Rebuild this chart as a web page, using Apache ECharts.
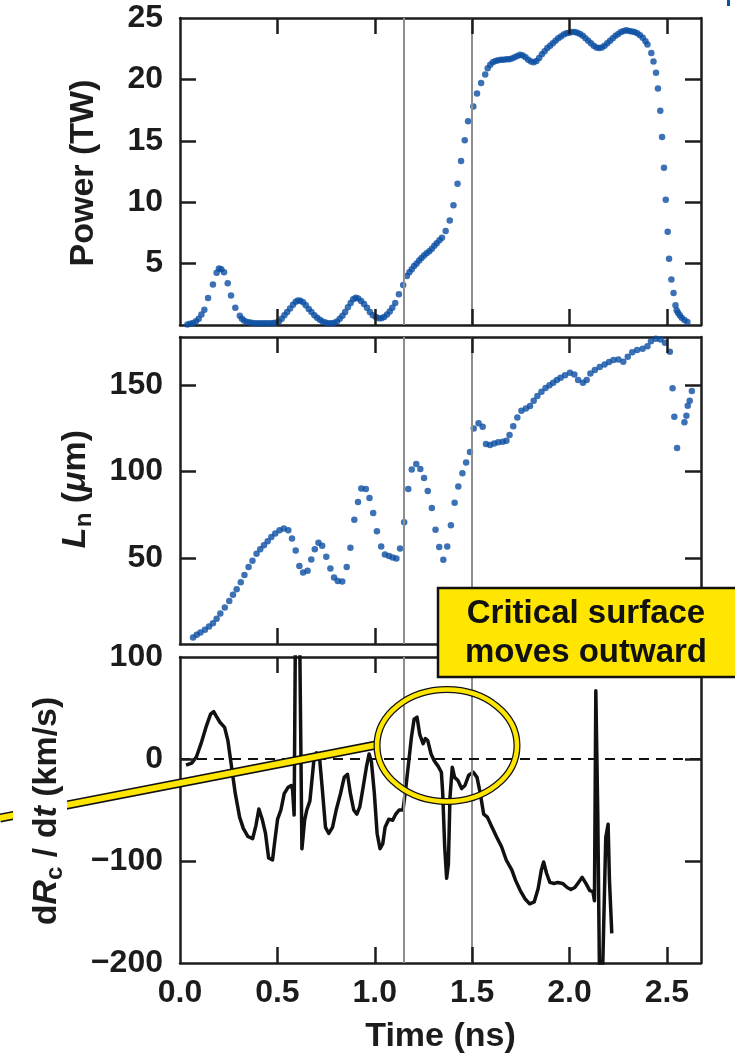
<!DOCTYPE html>
<html><head><meta charset="utf-8">
<script src="https://cdn.jsdelivr.net/npm/echarts@6/dist/echarts.min.js"></script>
<style>html,body{margin:0;padding:0;background:#fff}#chart{width:735px;height:1058px}</style>
</head><body><div id="chart"></div>
<script>
// ---------- data ----------
const timeTickLabels = [0, 0.5, 1.0, 1.5, 2.0, 2.5];
const powerTickLabels = [5, 10, 15, 20, 25];
const lnTickLabels = [50, 100, 150];
const rateTickLabels = [-200, -100, 0, 100];
const markerTimes = [1.15, 1.5];

const powerPoints = [
[0.038,0.05],[0.052,0.1],[0.067,0.16],[0.082,0.3],[0.096,0.5],[0.11,0.85],[0.125,1.25],[0.144,2.2],[0.169,3.3],[0.188,4.25],[0.2,4.6],[0.212,4.55],[0.226,4.3],[0.245,3.4],[0.262,2.4],[0.284,1.4],[0.307,0.75],[0.318,0.5],[0.33,0.35],[0.345,0.25],[0.36,0.2],[0.375,0.17],[0.39,0.15],[0.405,0.15],[0.42,0.15],[0.435,0.15],[0.45,0.15],[0.465,0.15],[0.48,0.16],[0.495,0.2],[0.508,0.28],[0.522,0.5],[0.536,0.8],[0.55,1.05],[0.565,1.35],[0.58,1.65],[0.594,1.9],[0.606,2.0],[0.618,1.98],[0.632,1.85],[0.646,1.6],[0.661,1.3],[0.675,1.05],[0.69,0.8],[0.704,0.6],[0.718,0.42],[0.732,0.28],[0.747,0.2],[0.762,0.15],[0.777,0.15],[0.792,0.18],[0.806,0.28],[0.82,0.5],[0.834,0.75],[0.848,1.05],[0.862,1.45],[0.876,1.8],[0.889,2.1],[0.902,2.22],[0.915,2.15],[0.93,1.95],[0.945,1.7],[0.96,1.4],[0.975,1.05],[0.99,0.8],[1.006,0.65],[1.02,0.55],[1.034,0.55],[1.048,0.65],[1.063,0.85],[1.077,1.1],[1.09,1.4],[1.105,1.8],[1.124,2.5],[1.146,3.25],[1.165,4.0],[1.178,4.3],[1.19,4.55],[1.202,4.8],[1.215,5.0],[1.228,5.25],[1.24,5.45],[1.253,5.65],[1.266,5.85],[1.28,6.0],[1.293,6.2],[1.306,6.45],[1.318,6.65],[1.332,6.9],[1.345,7.1],[1.364,7.65],[1.385,8.5],[1.404,9.75],[1.425,11.5],[1.443,13.35],[1.462,15.05],[1.479,16.6],[1.506,17.8],[1.525,18.85],[1.546,19.7],[1.567,20.4],[1.58,20.9],[1.593,21.2],[1.606,21.4],[1.62,21.5],[1.634,21.55],[1.648,21.6],[1.662,21.6],[1.676,21.65],[1.69,21.65],[1.704,21.7],[1.718,21.8],[1.732,21.9],[1.746,22.0],[1.76,21.95],[1.774,21.8],[1.788,21.6],[1.802,21.45],[1.816,21.4],[1.83,21.5],[1.844,21.75],[1.858,22.05],[1.872,22.3],[1.886,22.55],[1.9,22.75],[1.914,22.95],[1.928,23.15],[1.942,23.35],[1.956,23.5],[1.97,23.65],[1.984,23.75],[1.998,23.8],[2.012,23.85],[2.026,23.85],[2.04,23.8],[2.054,23.7],[2.068,23.55],[2.082,23.35],[2.096,23.15],[2.11,22.95],[2.124,22.75],[2.138,22.6],[2.152,22.55],[2.166,22.6],[2.18,22.75],[2.194,22.95],[2.208,23.15],[2.222,23.35],[2.236,23.55],[2.25,23.7],[2.264,23.85],[2.278,23.95],[2.292,24.0],[2.306,23.95],[2.32,23.9],[2.334,23.85],[2.348,23.75],[2.362,23.6],[2.376,23.4],[2.39,23.1],[2.4,22.85],[2.42,22.15],[2.431,21.45],[2.444,20.55],[2.454,19.25],[2.466,17.45],[2.475,15.3],[2.485,12.8],[2.494,10.2],[2.504,7.6],[2.511,5.4],[2.523,3.7],[2.534,2.6],[2.544,1.6],[2.55,1.2],[2.557,1.0],[2.566,0.8],[2.576,0.6],[2.59,0.4],[2.605,0.25]
];

const lnPoints = [
[0.067,3.8],[0.086,5.4],[0.105,6.7],[0.128,8.3],[0.149,10.2],[0.169,12.1],[0.188,14.6],[0.207,17.7],[0.23,21.2],[0.253,25],[0.272,28.5],[0.291,31.7],[0.312,35.8],[0.331,40],[0.352,44.6],[0.372,48.3],[0.393,52.3],[0.412,55],[0.431,57.3],[0.45,59.6],[0.469,62.1],[0.489,64],[0.511,66],[0.533,66.9],[0.556,66],[0.575,61.2],[0.594,54.2],[0.613,45.2],[0.632,41.5],[0.655,42.5],[0.674,49],[0.692,55],[0.711,58.7],[0.73,56.9],[0.751,50.6],[0.772,43.8],[0.791,38.5],[0.81,36.5],[0.833,36.2],[0.856,44.6],[0.875,55.8],[0.895,72.1],[0.914,82.3],[0.931,90.2],[0.954,89.8],[0.973,84.6],[0.992,76],[1.011,65.4],[1.033,56.5],[1.052,51.9],[1.073,51],[1.092,50.2],[1.111,49.6],[1.13,55.4],[1.151,70.6],[1.172,89.8],[1.19,101.2],[1.213,104.4],[1.234,101.5],[1.253,96.3],[1.272,88.7],[1.293,78.8],[1.312,66.3],[1.331,56.2],[1.352,48.8],[1.372,56.5],[1.391,68.8],[1.41,81.9],[1.429,91.3],[1.45,99],[1.469,105.2],[1.489,111.3],[1.508,125],[1.533,128],[1.554,126],[1.571,116],[1.592,115.4],[1.613,116.3],[1.634,117],[1.657,117.3],[1.676,117.9],[1.692,121.2],[1.711,126.2],[1.732,131.3],[1.753,135.2],[1.776,136.5],[1.797,138],[1.816,141],[1.835,143.8],[1.856,146.2],[1.877,148.5],[1.897,150],[1.916,151.5],[1.935,153.1],[1.954,154.4],[1.977,155.8],[2.002,157.3],[2.025,156.3],[2.044,153.1],[2.069,151.5],[2.088,153.1],[2.107,156.9],[2.13,158.8],[2.155,160.6],[2.18,162.1],[2.203,163.5],[2.226,164.6],[2.251,165],[2.276,163.7],[2.299,166.5],[2.322,169.2],[2.347,170.4],[2.375,171.2],[2.4,172.7],[2.418,175.6],[2.443,177],[2.467,176.5],[2.49,174.6],[2.515,169.4],[2.529,148.3],[2.538,131.7],[2.552,113.7],[2.59,128.5],[2.6,132.3],[2.607,138.1],[2.617,141],[2.628,146.7]
];

const ratePoints = [
[0.031,-6],[0.06,-4],[0.084,2],[0.108,15],[0.133,31],[0.157,44],[0.173,46.5],[0.186,42],[0.205,36],[0.229,31],[0.246,18],[0.265,-8],[0.284,-34],[0.306,-57],[0.325,-68],[0.349,-76],[0.373,-78],[0.39,-65],[0.405,-49],[0.422,-59],[0.439,-73],[0.455,-97],[0.475,-99],[0.487,-80],[0.501,-59],[0.518,-50],[0.535,-34],[0.554,-28],[0.571,-26],[0.578,-30],[0.586,-55],[0.592,110],[0.615,110],[0.626,-88],[0.64,-60],[0.651,-50],[0.667,-41],[0.687,-2],[0.701,6],[0.716,2],[0.73,-28],[0.747,-67],[0.764,-73],[0.783,-67],[0.802,-50],[0.824,-34],[0.843,-18],[0.86,-15],[0.875,-34],[0.892,-50],[0.908,-54],[0.923,-47],[0.94,-28],[0.957,-8],[0.971,5],[0.983,-3],[0.998,-34],[1.012,-73],[1.027,-88],[1.041,-83],[1.053,-67],[1.072,-59],[1.092,-60],[1.108,-54],[1.125,-50],[1.145,-50],[1.159,-29],[1.173,-5],[1.188,21],[1.202,39],[1.217,41],[1.231,24],[1.248,15],[1.26,20],[1.272,18],[1.289,5],[1.306,-2],[1.325,-7],[1.342,-13],[1.349,-34],[1.359,-86],[1.369,-117],[1.378,-103],[1.386,-38],[1.398,-8],[1.41,-18],[1.427,-21],[1.446,-29],[1.463,-26],[1.482,-16],[1.506,-13],[1.525,-18],[1.542,-34],[1.559,-54],[1.578,-57],[1.602,-67],[1.627,-77],[1.651,-86],[1.675,-99],[1.704,-109],[1.723,-119],[1.747,-129],[1.771,-137],[1.795,-142],[1.819,-140],[1.839,-127],[1.855,-109],[1.867,-101],[1.882,-112],[1.899,-121],[1.92,-122],[1.94,-121],[1.964,-122],[1.988,-126],[2.007,-128],[2.027,-126],[2.046,-121],[2.065,-116],[2.084,-122],[2.104,-129],[2.12,-130],[2.128,-139],[2.135,67],[2.145,-54],[2.154,-215],[2.169,-215],[2.186,-77],[2.198,-64],[2.205,-119],[2.217,-171]
];

// ---------- styling ----------
const FONT = '"Liberation Sans", Arial, Helvetica, sans-serif';
const INK = '#1c1c1c';
const BLUE = '#0b4fa3';
const GRAY = '#8e8e8e';
const YELLOW = '#ffe600';
const X_MAX = 2.675;
const TICK_LEN = 16;

const grids = [
  {left: 180, width: 521, top: 18, height: 307},
  {left: 180, width: 521, top: 337, height: 307},
  {left: 180, width: 521, top: 657, height: 306}
];
const yRanges = [[0, 25], [0, 178], [-200, 100]];
const yIntervals = [5, 50, 100];
const yTickSets = [powerTickLabels, lnTickLabels, rateTickLabels];

function axisLine() { return {show: true, onZero: false, lineStyle: {color: INK, width: 2.5}}; }
function labelFont() { return {fontSize: 32, fontWeight: 'bold', fontFamily: FONT, color: INK}; }

function pick(list, v) { return list.find(t => Math.abs(t - v) < 1e-6); }
function fmtSigned(v) { return v < 0 ? '\u2212' + Math.abs(v) : String(v); }

function xAxis(g, pos, showLabel) {
  const ax = {
    type: 'value', gridIndex: g, position: pos, min: 0, max: X_MAX, interval: 0.5,
    axisLine: axisLine(), axisTick: {show: false}, splitLine: {show: false},
    axisLabel: Object.assign({show: showLabel, margin: 14, formatter: v => {
      const f = pick(timeTickLabels, v); return f === undefined ? '' : f.toFixed(1);
    }}, labelFont())
  };
  if (showLabel) {
    ax.name = 'Time (ns)';
    ax.nameLocation = 'middle';
    ax.nameGap = 57;
    ax.nameTextStyle = {fontSize: 34, fontWeight: 'bold', fontFamily: FONT, color: INK};
  }
  return ax;
}
function yAxis(g, pos, showLabel) {
  const ticks = yTickSets[g];
  return {
    type: 'value', gridIndex: g, position: pos, min: yRanges[g][0], max: yRanges[g][1], interval: yIntervals[g],
    axisLine: axisLine(), axisTick: {show: false}, splitLine: {show: false},
    axisLabel: Object.assign({show: showLabel, margin: 17, formatter: v => {
      const f = pick(ticks, v); return f === undefined ? '' : fmtSigned(f);
    }}, labelFont())
  };
}

// inward tick marks on all four sides of each panel, placed in data space
function tickSegments(i) {
  const g = grids[i];
  const [y0, y1] = yRanges[i];
  const dy = TICK_LEN / g.height * (y1 - y0);
  const dx = TICK_LEN / g.width * X_MAX;
  const segs = [];
  timeTickLabels.filter(t => t > 0).forEach(t => {
    segs.push([{coord: [t, y0]}, {coord: [t, y0 + dy]}]);
    segs.push([{coord: [t, y1]}, {coord: [t, y1 - dy]}]);
  });
  yTickSets[i].filter(v => v > y0 && v < y1).forEach(v => {
    segs.push([{coord: [0, v]}, {coord: [dx, v]}]);
    segs.push([{coord: [X_MAX, v]}, {coord: [X_MAX - dx, v]}]);
  });
  return segs;
}
function tickSeries(i) {
  return {type: 'line', xAxisIndex: 2 * i, yAxisIndex: 2 * i, data: [], z: 4, silent: true,
    markLine: {silent: true, symbol: ['none', 'none'], label: {show: false}, emphasis: {disabled: true},
      lineStyle: {color: INK, width: 2.5, type: 'solid'}, data: tickSegments(i)}};
}

function markerLine() {
  return {
    silent: true, symbol: ['none', 'none'], label: {show: false},
    lineStyle: {color: GRAY, width: 2, type: 'solid'},
    emphasis: {disabled: true},
    data: markerTimes.map(t => ({xAxis: t}))
  };
}

const titleRich = {
  r: {fontSize: 34, fontWeight: 'bold', fontFamily: FONT, color: INK, lineHeight: 40},
  i: {fontSize: 34, fontWeight: 'bold', fontStyle: 'italic', fontFamily: FONT, color: INK, lineHeight: 40},
  s: {fontSize: 24, fontWeight: 'bold', fontFamily: FONT, color: INK, lineHeight: 20, verticalAlign: 'bottom'}
};

function vText(x, y, text, extra) {
  return {
    type: 'text', x, y, rotation: Math.PI / 2, z: 30,
    style: Object.assign({
      text, rich: titleRich, align: 'center', verticalAlign: 'middle',
      textAlign: 'center', textVerticalAlign: 'middle',
      fontSize: 34, fontWeight: 'bold', fontFamily: FONT, fill: INK
    }, extra || {})
  };
}

const graphics = [
  {type: 'line', z: 20, shape: {x1: 0, y1: 818, x2: 376, y2: 745}, style: {stroke: '#111', lineWidth: 9}},
  {type: 'line', z: 21, shape: {x1: -2, y1: 818.4, x2: 378, y2: 744.6}, style: {stroke: YELLOW, lineWidth: 6}},
  vText(84, 173, 'Power (TW)'),
  vText(76, 489, '{i|L}{s|n}{r| (}{i|\u03bc}{r|m)}'),
  vText(40, 811, '{r|d}{i|R}{s|c}{r| / d}{i|t}{r| (km/s)}', {backgroundColor: '#fff', padding: [14, 4, 0, 4]}),
  {type: 'ellipse', z: 40, shape: {cx: 447, cy: 745.5, rx: 70, ry: 56}, style: {fill: 'none', stroke: '#111', lineWidth: 7}},
  {type: 'ellipse', z: 41, shape: {cx: 447, cy: 745.5, rx: 70, ry: 56}, style: {fill: 'none', stroke: YELLOW, lineWidth: 4.5}},
  {type: 'rect', z: 50, shape: {x: 438, y: 588, width: 310, height: 89}, style: {fill: YELLOW, stroke: '#111', lineWidth: 2.5}},
  {type: 'text', z: 51, x: 586, y: 633,
   style: {text: 'Critical surface\nmoves outward', align: 'center', verticalAlign: 'middle',
     textAlign: 'center', textVerticalAlign: 'middle',
     fontSize: 33, fontWeight: 'bold', fontFamily: FONT, fill: '#111', lineHeight: 39}},
  {type: 'rect', z: 5, shape: {x: 727, y: 0, width: 3, height: 6}, style: {fill: BLUE}}
];

const option = {
  animation: false,
  grid: grids,
  xAxis: [
    xAxis(0, 'bottom', false), xAxis(0, 'top', false),
    xAxis(1, 'bottom', false), xAxis(1, 'top', false),
    xAxis(2, 'bottom', true), xAxis(2, 'top', false)
  ],
  yAxis: [
    yAxis(0, 'left', true), yAxis(0, 'right', false),
    yAxis(1, 'left', true), yAxis(1, 'right', false),
    yAxis(2, 'left', true), yAxis(2, 'right', false)
  ],
  series: [
    {type: 'scatter', xAxisIndex: 0, yAxisIndex: 0, data: powerPoints, symbolSize: 6.5,
     itemStyle: {color: BLUE}, markLine: markerLine(), z: 3},
    {type: 'scatter', xAxisIndex: 2, yAxisIndex: 2, data: lnPoints, symbolSize: 6.5,
     itemStyle: {color: BLUE}, markLine: markerLine(), z: 3},
    {type: 'line', xAxisIndex: 4, yAxisIndex: 4, data: ratePoints, showSymbol: false, clip: true,
     lineStyle: {color: '#111', width: 3.5, join: 'round'}, z: 3,
     markLine: {
       silent: true, symbol: ['none', 'none'], label: {show: false}, emphasis: {disabled: true},
       data: [
         ...markerTimes.map(t => ({xAxis: t, lineStyle: {color: GRAY, width: 2, type: 'solid'}})),
         {yAxis: 0, lineStyle: {color: '#111', width: 2, type: [10, 7]}}
       ]
     }},
    tickSeries(0), tickSeries(1), tickSeries(2)
  ],
  graphic: graphics
};

const chart = echarts.init(document.getElementById('chart'));
chart.setOption(option);
</script></body></html>
